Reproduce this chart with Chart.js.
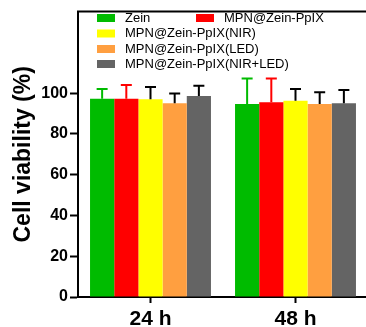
<!DOCTYPE html>
<html>
<head>
<meta charset="utf-8">
<script src="https://cdn.jsdelivr.net/npm/chart.js@4.4.0/dist/chart.umd.min.js"></script>
<style>
html, body { margin: 0; padding: 0; background: #fff; overflow: hidden; }
#wrap { width: 372px; height: 327px; }
</style>
</head>
<body>
<div id="wrap"><canvas id="mycanvas" width="372" height="327"></canvas></div>
<script>
var timepoints = ["24 h", "48 h"];
var groupNames = ["Zein", "MPN@Zein-PpIX", "MPN@Zein-PpIX(NIR)", "MPN@Zein-PpIX(LED)", "MPN@Zein-PpIX(NIR+LED)"];
var groupColors = ["#00bb00", "#ff0000", "#ffff00", "#ff9f40", "#646464"];
var errColors = ["#00bb00", "#ff0000", "#000000", "#000000", "#000000"];

// mean cell viability (%)
var zeinMean = [97.2, 94.7];
var mpnMean = [97.3, 95.5];
var nirMean = [97.0, 96.3];
var ledMean = [95.0, 94.7];
var nirLedMean = [98.6, 95.0];

// SD (upper bar only)
var zeinErr = [4.8, 12.5];
var mpnErr = [6.7, 11.7];
var nirErr = [6.0, 5.7];
var ledErr = [4.8, 5.7];
var nirLedErr = [5.0, 6.5];

var yTicks = [0, 20, 40, 60, 80, 100];

var means = [zeinMean, mpnMean, nirMean, ledMean, nirLedMean];
var errs = [zeinErr, mpnErr, nirErr, ledErr, nirLedErr];

var datasets = [];
for (var i in groupNames) {
	datasets.push({
		label: groupNames[i],
		data: means[i],
		errors: errs[i],
		backgroundColor: groupColors[i],
		borderWidth: 0,
		barPercentage: 1.0,
		categoryPercentage: 0.834
	});
}

var errorBars = {
	id: "errorBars",
	afterDatasetsDraw: function(chart) {
		var ctx = chart.ctx;
		var y = chart.scales.y;
		ctx.save();
		ctx.lineWidth = 2;
		chart.data.datasets.forEach(function(ds, i) {
			var meta = chart.getDatasetMeta(i);
			ctx.strokeStyle = errColors[i];
			meta.data.forEach(function(bar, j) {
				var top = y.getPixelForValue(ds.data[j] + ds.errors[j]);
				ctx.beginPath();
				ctx.moveTo(bar.x, bar.y);
				ctx.lineTo(bar.x, top);
				ctx.moveTo(bar.x - 5.5, top);
				ctx.lineTo(bar.x + 5.5, top);
				ctx.stroke();
			});
		});
		ctx.restore();
	}
};

var frameAndLegend = {
	id: "frameAndLegend",
	afterDraw: function(chart) {
		var ctx = chart.ctx;
		var a = chart.chartArea;
		ctx.save();
		// top & right frame
		ctx.strokeStyle = "#000";
		ctx.lineWidth = 2;
		ctx.beginPath();
		ctx.moveTo(a.left - 1, a.top);
		ctx.lineTo(a.right, a.top);
		ctx.lineTo(a.right, a.bottom);
		ctx.stroke();
		// legend
		var spots = [[97, 18], [196, 18], [97, 33.5], [97, 49], [97, 64]];
		ctx.font = "13px Arial, 'Liberation Sans', sans-serif";
		ctx.textBaseline = "middle";
		ctx.fillStyle = "#000";
		chart.data.datasets.forEach(function(ds, i) {
			var p = spots[i];
			ctx.fillStyle = ds.backgroundColor;
			ctx.fillRect(p[0], p[1] - 4, 18, 8);
			ctx.fillStyle = "#000";
			ctx.fillText(ds.label, p[0] + 28, p[1]);
		});
		ctx.restore();
	}
};

var ctx = document.getElementById("mycanvas");

var BarGraph = new Chart(ctx, {
	type: "bar",
	data: {
		labels: timepoints,
		datasets: datasets
	},
	options: {
		responsive: false,
		animation: false,
		layout: { padding: { top: 10, right: 4, left: 0, bottom: 0 } },
		plugins: {
			legend: { display: false },
			tooltip: { enabled: false }
		},
		scales: {
			x: {
				grid: {
					offset: false,
					drawOnChartArea: false,
					tickLength: 6,
					tickColor: "#000",
					tickWidth: 2
				},
				border: { color: "#000", width: 2 },
				ticks: {
					color: "#000",
					padding: 4,
					maxRotation: 0,
					font: { family: "Arial, 'Liberation Sans', sans-serif", size: 21, weight: "bold" }
				},
				afterFit: function(scale) { scale.height = 30; }
			},
			y: {
				min: 0,
				max: 140,
				afterBuildTicks: function(scale) {
					scale.ticks = yTicks.map(function(v) { return { value: v }; });
				},
				grid: {
					drawOnChartArea: false,
					tickLength: 8,
					tickColor: "#000",
					tickWidth: 2
				},
				border: { color: "#000", width: 2 },
				ticks: {
					color: "#000",
					padding: 2,
					font: { family: "Arial, 'Liberation Sans', sans-serif", size: 16, weight: "bold" }
				},
				title: {
					display: true,
					text: "Cell viability (%)",
					color: "#000",
					padding: { top: 10, bottom: 0 },
					font: { family: "Arial, 'Liberation Sans', sans-serif", size: 23, weight: "bold" }
				},
				afterFit: function(scale) { scale.width = 78; }
			}
		}
	},
	plugins: [errorBars, frameAndLegend]
});
</script>
</body>
</html>
